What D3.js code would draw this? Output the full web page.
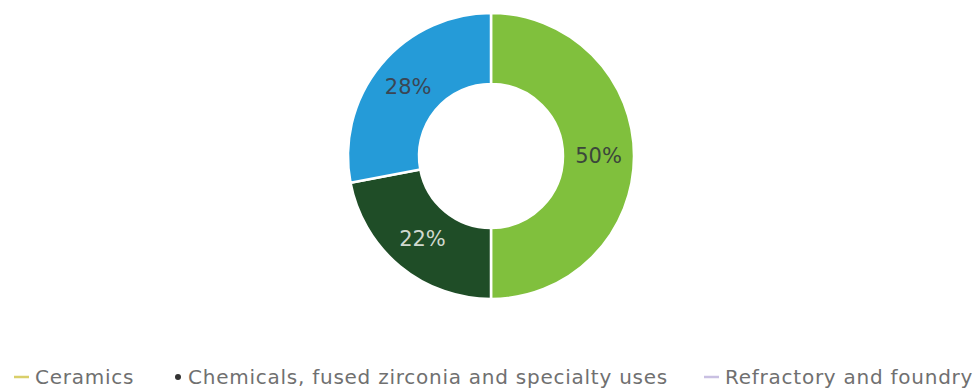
<!DOCTYPE html>
<html>
<head>
<meta charset="utf-8">
<script src="https://cdn.jsdelivr.net/npm/d3@7"></script>
<style>
  html, body { margin: 0; padding: 0; background: #ffffff; }
  svg { display: block; }
</style>
</head>
<body>
<svg id="chart" width="979" height="392"></svg>
<script>
// Zircon end-use shares
const categories = ["Ceramics", "Chemicals, fused zirconia and specialty uses", "Refractory and foundry"];
const shares = [50, 22, 28];
const sliceColors = ["#80c03d", "#1f4d27", "#259bd8"];
const labelColors = ["#3b463b", "#cfd8cf", "#3b4654"];
const legendMarkerColors = ["#d9cf6a", "#333333", "#c9c0e2"];
const legendMarkerShapes = ["dash", "dot", "dash"];

const svg = d3.select("#chart");
const cx = 491, cy = 156;
const outerR = 143, innerR = 72;

const data = categories.map((c, i) => ({ name: c, value: shares[i], i }));

const pie = d3.pie().value(d => d.value).sort(null);
const arc = d3.arc().innerRadius(innerR).outerRadius(outerR);
const labelArc = d3.arc().innerRadius((innerR + outerR) / 2).outerRadius((innerR + outerR) / 2);

const g = svg.append("g").attr("transform", `translate(${cx},${cy})`);
const arcs = pie(data);

g.selectAll("path.slice")
  .data(arcs)
  .join("path")
  .attr("class", "slice")
  .attr("d", arc)
  .attr("fill", d => sliceColors[d.data.i])
  .attr("stroke", "#ffffff")
  .attr("stroke-width", 2.5);

g.selectAll("text.pct")
  .data(arcs)
  .join("text")
  .attr("class", "pct")
  .attr("transform", d => `translate(${labelArc.centroid(d)})`)
  .attr("text-anchor", "middle")
  .attr("dominant-baseline", "central")
  .attr("font-family", "DejaVu Sans, Verdana, sans-serif")
  .attr("font-size", 21)
  .attr("fill", d => labelColors[d.data.i])
  .text(d => d.data.value + "%");

// Legend along the bottom
const legendX = [14, 173, 704];
const legendY = 377;
const lg = svg.append("g")
  .attr("font-family", "DejaVu Sans, Verdana, sans-serif")
  .attr("font-size", 20)
  .attr("letter-spacing", 0.75);
categories.forEach((c, i) => {
  const item = lg.append("g").attr("transform", `translate(${legendX[i]},${legendY})`);
  if (legendMarkerShapes[i] === "dash") {
    item.append("line").attr("x1", 0).attr("x2", 15).attr("y1", 0).attr("y2", 0)
      .attr("stroke", legendMarkerColors[i]).attr("stroke-width", 2.5);
  } else {
    item.append("circle").attr("cx", 5).attr("cy", 0).attr("r", 3)
      .attr("fill", legendMarkerColors[i]);
  }
  item.append("text").attr("x", i === 1 ? 15 : 21).attr("y", 0).attr("dominant-baseline", "central")
    .attr("fill", "#707070").text(c);
});
</script>
</body>
</html>
